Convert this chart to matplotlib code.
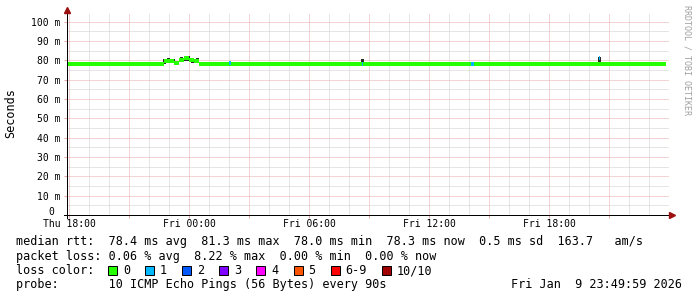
import numpy as np
import matplotlib
matplotlib.use('Agg')
import matplotlib.pyplot as plt
from matplotlib import rcParams
from matplotlib.patches import Rectangle
from matplotlib.ticker import MultipleLocator, FuncFormatter
from matplotlib.transforms import offset_copy

# ---- data (hours counted from Thu 18:00) ----
sample_start = -0.25      # first sample Thu 17:45
sample_step = 0.25        # 15 minute samples
last_update = 29.83       # Fri 23:50

median_ms = [
    78.3, 78.3, 78.3, 78.3, 78.3, 78.3, 78.3, 78.0, 78.3, 78.3,
    78.3, 78.3, 78.3, 78.3, 78.3, 78.3, 78.3, 78.0, 78.3, 78.3,
    79.6, 79.9, 78.6, 80.4, 81.0, 80.2, 79.8, 78.3, 78.3, 78.3,
    78.3, 78.3, 78.3, 78.3, 78.3, 78.3, 78.3, 78.3, 78.0, 78.3,
    78.3, 78.3, 78.3, 78.3, 78.3, 78.3, 78.3, 78.3, 78.3, 78.3,
    78.3, 78.3, 78.3, 78.3, 78.3, 78.0, 78.3, 78.3, 78.3, 78.3,
    78.3, 78.3, 78.0, 78.3, 78.3, 78.3, 78.3, 78.3, 78.3, 78.3,
    78.0, 78.3, 78.3, 78.3, 78.3, 78.3, 78.3, 78.0, 78.3, 78.3,
    78.3, 78.3, 78.0, 78.3, 78.3, 78.3, 78.3, 78.3, 78.3, 78.3,
    78.3, 78.3, 78.0, 78.3, 78.3, 78.3, 78.3, 78.0, 78.3, 78.3,
    78.3, 78.3, 78.3, 78.0, 78.3, 78.3, 78.3, 78.3, 78.3, 78.3,
    78.3, 78.3, 78.3, 78.0, 78.3, 78.3, 78.3, 78.3, 78.3, 78.3,
]

# short periods with packet loss
loss_hours = [7.98, 14.62, 20.1, 26.47]
loss_len = [0.1, 0.08, 0.15, 0.08]
loss_ms = [78.5, 78.3, 78.3, 81.3]
loss_level = [1, 1, 1, 1]

# ping spread (smoke) where it shows outside the median line
smoke_hours = [4.72, 4.95, 5.2, 5.6, 5.8, 5.95, 6.15, 6.4, 14.62, 26.5]
smoke_lo = [78.5, 79.0, 78.9, 79.8, 80.0, 80.4, 79.2, 79.0, 78.8, 77.4]
smoke_hi = [80.8, 81.1, 80.9, 81.8, 82.2, 82.2, 81.2, 81.0, 80.6, 81.8]

tick_hours = [0, 6, 12, 18, 24]
tick_labels = ['Thu 18:00', 'Fri 00:00', 'Fri 06:00', 'Fri 12:00', 'Fri 18:00']

loss_colors = ['#26ff00', '#00b8ff', '#0059ff', '#7e00ff',
               '#ff00ff', '#ff5500', '#ff0000', '#a10000']
loss_names = ['0', '1', '2', '3', '4', '5', '6-9', '10/10']

legend_rtt = 'median rtt:  78.4 ms avg  81.3 ms max  78.0 ms min  78.3 ms now  0.5 ms sd  163.7   am/s'
legend_loss = 'packet loss: 0.06 % avg  8.22 % max  0.00 % min  0.00 % now'
legend_probe = 'probe:       10 ICMP Echo Pings (56 Bytes) every 90s'
stamp = 'Fri Jan  9 23:49:59 2026'

# ---- style ----
rcParams['font.family'] = 'DejaVu Sans Mono'
W, H = 697, 297
PX = 0.72  # one pixel in points at dpi 100
GridGray = '#cdcdcd'
GridRed = '#e8a8a8'
ArrowRed = '#9a1010'

fig = plt.figure(figsize=(W / 100, H / 100), dpi=100)
fig.patch.set_facecolor('white')

left, right, top, bottom = 67, 669, 14, 215
ax = fig.add_axes([left / W, (H - bottom) / H, (right - left) / W, (bottom - top) / H])

x0 = -0.115
PXM = 1 / 1.933   # one pixel in ms
ax.set_xlim(x0, x0 + (right - left) / 20.0)
ax.set_ylim(0, (bottom - top) * PXM)

# grid
ax.xaxis.set_major_locator(MultipleLocator(3))
ax.xaxis.set_minor_locator(MultipleLocator(1))
ax.yaxis.set_major_locator(MultipleLocator(10))
ax.yaxis.set_minor_locator(MultipleLocator(5))
ax.grid(which='minor', color=GridGray, linewidth=PX, linestyle=(0, (1, 1)))
ax.grid(which='major', color=GridRed, linewidth=PX, linestyle=(0, (1, 1)))
ax.set_axisbelow(True)

lab = dict(zip(tick_hours, tick_labels))
ax.xaxis.set_major_formatter(FuncFormatter(lambda v, p: lab.get(int(round(v)), '') if abs(v - round(v)) < 1e-6 else ''))
ax.yaxis.set_major_formatter(FuncFormatter(lambda v, p: '' if v == 0 else '%d m' % v))

ax.tick_params(which='major', length=2, width=PX, color=GridRed, labelsize=7, pad=1)
ax.tick_params(axis='y', which='major', pad=3)
ax.tick_params(which='minor', length=0)

# zero label sits on the axis line, not centred on it
ax.annotate('0', xy=(0, 0), xycoords='axes fraction', xytext=(-13, 0), textcoords='offset pixels',
            ha='right', va='baseline', fontsize=7)

for s in ax.spines.values():
    s.set_visible(False)

# smoke then median band (4 px thick)
ax.vlines(smoke_hours, smoke_lo, smoke_hi, color='#2a2a2a', linewidth=1.4 * PX, zorder=3,
          antialiased=False)

n = len(median_ms)
edges = np.array([sample_start + sample_step * i for i in range(n)] + [last_update])
vals = np.array(median_ms + [median_ms[-1]])
ax.fill_between(edges, vals - 2 * PXM, vals + 2 * PXM, step='post', color=loss_colors[0],
                linewidth=0, antialiased=False, zorder=4)
for h, d, v, lv in zip(loss_hours, loss_len, loss_ms, loss_level):
    ax.fill_between([h, h + d], v - 2 * PXM, v + 2 * PXM, color=loss_colors[lv],
                    linewidth=0, antialiased=False, zorder=5)

# axes with arrows
ax.plot([0, 0], [-0.015, 1.02], transform=ax.transAxes, color='black', lw=PX, clip_on=False, zorder=6)
ax.plot([-0.005, 1.0], [0, 0], transform=ax.transAxes, color='black', lw=PX, clip_on=False, zorder=6)
ax.plot([0], [1], marker='^', ms=5, color=ArrowRed,
        transform=offset_copy(ax.transAxes, fig=fig, x=0, y=4, units='dots'), clip_on=False, zorder=7)
ax.plot([1], [0], marker='>', ms=5, color=ArrowRed,
        transform=offset_copy(ax.transAxes, fig=fig, x=3, y=0, units='dots'), clip_on=False, zorder=7)

fig.text(10.5 / W, 1 - 113.5 / H, 'Seconds', rotation=90, ha='center', va='center', fontsize=8.5)
fig.text(687 / W, 1 - 60 / H, 'RRDTOOL / TOBI OETIKER', rotation=270, ha='center', va='center',
         fontsize=6, color='#a0a0a0')

# legend
def ftext(x, y, s, **kw):
    fig.text(x / W, 1 - y / H, s, fontsize=8.5, va='baseline', **kw)

ftext(16, 245.5, legend_rtt)
ftext(16, 259.8, legend_loss)
ftext(16, 274, 'loss color:')
ftext(16, 288, legend_probe)
ftext(682, 288, stamp, ha='right')

cw = 7.1
bx = 108
for c, name in zip(loss_colors, loss_names):
    fig.patches.append(Rectangle((bx / W, 1 - 274.5 / H), 9 / W, 9 / H, transform=fig.transFigure,
                                 facecolor=c, edgecolor='black', linewidth=PX))
    ftext(bx + 15, 274, name)
    bx = bx + 15 + len(name) * cw + 15

fig.savefig('out.png', dpi=100, facecolor='white')
